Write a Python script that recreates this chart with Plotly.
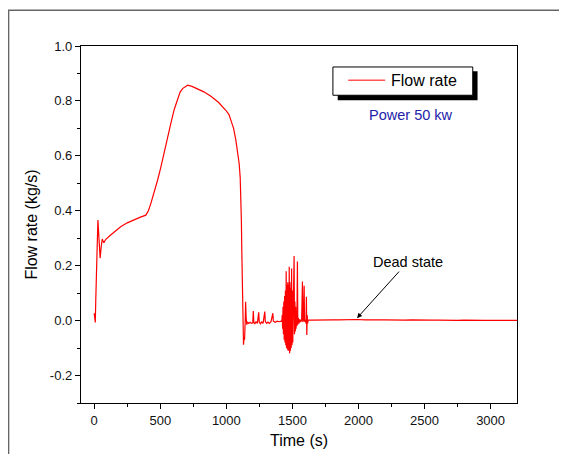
import plotly.graph_objects as go

# flow rate vs time, power 50 kw
time_rise = [0, 5, 8, 12, 20, 28, 36, 45, 53, 61, 67, 73, 80, 88, 120, 160, 200, 250,
             300, 350, 391, 410, 429, 455, 480, 505, 530, 555, 580, 605, 631, 650, 669,
             690, 707, 740, 782, 830, 883, 940, 996, 1020, 1034, 1055, 1072, 1085, 1097,
             1105, 1110, 1114, 1117, 1120]
flow_rise = [0.027, 0.01, -0.007, 0.08, 0.25, 0.366, 0.3, 0.227, 0.27, 0.297, 0.29, 0.284,
             0.29, 0.296, 0.31, 0.327, 0.342, 0.356, 0.368, 0.377, 0.384, 0.40, 0.427, 0.468,
             0.512, 0.56, 0.609, 0.665, 0.718, 0.768, 0.809, 0.832, 0.845, 0.853, 0.857,
             0.853, 0.845, 0.833, 0.817, 0.795, 0.766, 0.75, 0.73, 0.70, 0.657, 0.62, 0.572,
             0.52, 0.451, 0.36, 0.257, 0.16]

time_drop = [1122, 1124, 1127, 1130, 1134, 1138, 1143, 1146, 1150, 1155, 1160, 1170, 1180,
             1190, 1200, 1204, 1208, 1215, 1225, 1235, 1245, 1249, 1258, 1268, 1278, 1291,
             1295, 1305, 1315, 1325, 1338, 1352, 1356, 1370, 1385, 1400, 1415, 1420]
flow_drop = [0.10, 0.08, -0.02, -0.088, -0.06, -0.07, 0.0, 0.069, 0.01, -0.015, -0.005,
             -0.01, -0.006, -0.01, -0.008, 0.035, -0.005, -0.012, -0.004, -0.01, 0.03,
             -0.004, -0.012, -0.005, -0.01, 0.033, -0.003, -0.01, -0.005, -0.01, -0.004,
             0.027, -0.002, -0.006, -0.002, -0.004, -0.002, -0.003]

time_burst = [1423, 1426, 1429, 1432, 1435, 1438, 1441, 1444, 1447, 1450, 1453, 1456, 1459,
              1462, 1465, 1468, 1471, 1474, 1476, 1479, 1482, 1485, 1488, 1491, 1494, 1497,
              1500, 1503, 1506, 1509, 1513, 1516, 1519, 1522, 1525, 1528, 1531, 1534, 1538,
              1541, 1545, 1550, 1556, 1562, 1570, 1576, 1579, 1584, 1589, 1592, 1598, 1603,
              1606, 1609, 1612, 1615, 1620]
flow_burst = [0.02, -0.03, 0.05, -0.05, 0.07, -0.07, 0.09, -0.08, 0.11, -0.09, 0.18, -0.10,
              0.13, -0.105, 0.14, -0.11, 0.13, -0.11, 0.196, -0.119, 0.14, -0.11, 0.12, -0.10,
              0.19, -0.09, 0.11, -0.08, 0.09, -0.06, 0.235, -0.05, 0.07, -0.04, 0.05, -0.03,
              0.03, -0.02, 0.215, -0.015, 0.01, -0.01, 0.005, -0.005, 0.002, 0.142, -0.005,
              0.004, 0.127, -0.004, 0.003, -0.01, 0.087, -0.052, 0.02, -0.01, 0.003]

time_tail = [1650, 1700, 1750, 1800, 1850, 1900, 1950, 1990, 2050, 2100, 2150, 2200, 2250,
             2300, 2350, 2400, 2450, 2500, 2550, 2600, 2650, 2700, 2750, 2800, 2850, 2900,
             2950, 3000, 3050, 3100, 3150, 3200]
flow_tail = [0.002, 0.003, 0.002, 0.003, 0.003, 0.004, 0.003, 0.004, 0.003, 0.004, 0.003,
             0.003, 0.002, 0.003, 0.002, 0.003, 0.002, 0.003, 0.002, 0.002, 0.001, 0.002,
             0.001, 0.002, 0.001, 0.002, 0.001, 0.001, 0.001, 0.001, 0.001, 0.001]

time = time_rise + time_drop + time_burst + time_tail
flow = flow_rise + flow_drop + flow_burst + flow_tail

x_range = [-100, 3200]
x_ticks = [0, 500, 1000, 1500, 2000, 2500, 3000]
y_range = [-0.3, 1.0]
y_ticks = [-0.2, 0.0, 0.2, 0.4, 0.6, 0.8, 1.0]
y_ticktext = ['-0.2', '0.0', '0.2', '0.4', '0.6', '0.8', '1.0']

# page puts the figure 8px in from the corner, so work in figure pixels
W, H = 559, 446
L, R, T, B = 72.5, 509, 37.7, 395


def px2paper(px, py):
    return (px - L) / (R - L), (B - py) / (B - T)


fig = go.Figure()
fig.add_trace(go.Scatter(x=time, y=flow, mode='lines', name='Flow rate',
                         line=dict(color='#ff0000', width=1.2), showlegend=False))

font = 'Arial, Liberation Sans, sans-serif'
# automargin off so the plot box stays exactly where the margins put it
axis_common = dict(showline=True, linecolor='black', linewidth=1.3, mirror=True,
                   ticks='outside', ticklen=5, tickwidth=1.2, tickcolor='black',
                   showgrid=False, zeroline=False, automargin=False,
                   tickfont=dict(family=font, size=13, color='#111'),
                   minor=dict(ticks='outside', ticklen=3, tickwidth=1.1, tickcolor='black'))

fig.update_xaxes(range=x_range, tickvals=x_ticks,
                 minor_dtick=250, minor_tick0=0,
                 title=dict(text='Time (s)', font=dict(family=font, size=16, color='black'),
                            standoff=8),
                 **axis_common)
fig.update_yaxes(range=y_range, tickvals=y_ticks, ticktext=y_ticktext,
                 minor_dtick=0.1, minor_tick0=0,
                 title=dict(text='Flow rate (kg/s)', font=dict(family=font, size=16, color='black'),
                            standoff=8),
                 **axis_common)

shapes = []
# outer grey frame (runs off the right and bottom edge)
fx0, fy0 = px2paper(0, 2)
fx1, fy1 = px2paper(W + 20, H + 20)
shapes.append(dict(type='rect', xref='paper', yref='paper', x0=fx0, y0=fy1, x1=fx1, y1=fy0,
                   line=dict(color='#666', width=1.5)))
# legend shadow + box + sample line
sx0, sy0 = px2paper(329.5, 63)
sx1, sy1 = px2paper(469.5, 92)
shapes.append(dict(type='rect', xref='paper', yref='paper', x0=sx0, y0=sy1, x1=sx1, y1=sy0,
                   fillcolor='black', line=dict(width=0)))
bx0, by0 = px2paper(324.7, 58.7)
bx1, by1 = px2paper(464.7, 87)
shapes.append(dict(type='rect', xref='paper', yref='paper', x0=bx0, y0=by1, x1=bx1, y1=by0,
                   fillcolor='white', line=dict(color='black', width=1)))
lx0, ly = px2paper(340, 72)
lx1, _ = px2paper(377, 72)
shapes.append(dict(type='line', xref='paper', yref='paper', x0=lx0, y0=ly, x1=lx1, y1=ly,
                   line=dict(color='#ff5555', width=1.5)))

tx, ty = px2paper(381, 72)
px_, py_ = px2paper(403, 107)
annotations = [
    dict(xref='paper', yref='paper', x=tx, y=ty, text='Flow rate', showarrow=False,
         xanchor='left', yanchor='middle', font=dict(family=font, size=16, color='black')),
    dict(xref='paper', yref='paper', x=px_, y=py_, text='Power 50 kw', showarrow=False,
         xanchor='center', yanchor='middle', font=dict(family=font, size=14.5, color='#2222aa')),
    dict(x=1989, y=0.009, ax=2372, ay=0.213, axref='x', ayref='y', text='Dead state',
         showarrow=True, arrowhead=2, arrowsize=1, arrowwidth=1, arrowcolor='black',
         font=dict(family=font, size=14.5, color='black')),
]

fig.update_layout(width=W, height=H, margin=dict(l=L, r=W - R, t=T, b=H - B),
                  paper_bgcolor='white', plot_bgcolor='white',
                  shapes=shapes, annotations=annotations, showlegend=False)

fig.write_html("out.html")
